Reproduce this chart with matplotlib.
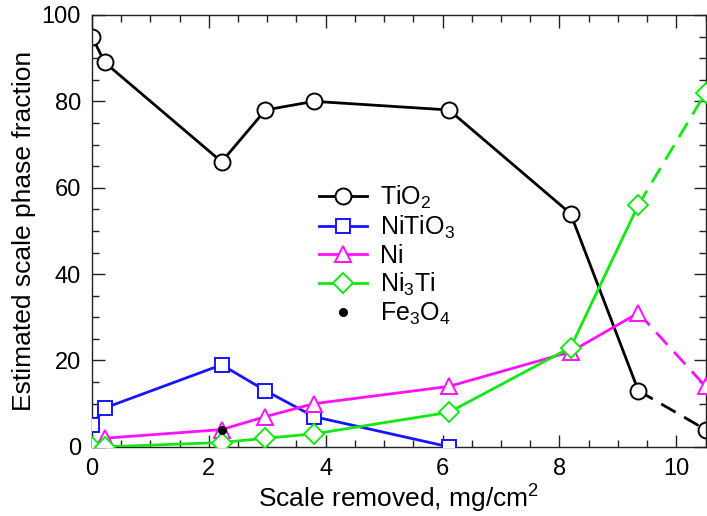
import matplotlib
matplotlib.use("Agg")
import matplotlib.pyplot as plt
from matplotlib.ticker import MultipleLocator
from matplotlib.lines import Line2D

plt.rcParams['font.family'] = ['Liberation Sans', 'DejaVu Sans']
plt.rcParams['mathtext.fontset'] = 'custom'
plt.rcParams['mathtext.rm'] = 'Liberation Sans'
plt.rcParams['mathtext.it'] = 'Liberation Sans'
plt.rcParams['mathtext.default'] = 'regular'

# Scale removed (mg/cm^2) and estimated phase fractions (%)
tio2_x = [0.0, 0.22, 2.22, 2.97, 3.8, 6.11, 8.19, 9.35, 10.5]
tio2_y = [95, 89, 66, 78, 80, 78, 54, 13, 4]

nitio3_x = [0.0, 0.22, 2.22, 2.97, 3.8, 6.11]
nitio3_y = [5, 9, 19, 13, 7, 0]

ni_x = [0.0, 0.22, 2.22, 2.97, 3.8, 6.11, 8.19, 9.35, 10.5]
ni_y = [0, 2, 4, 7, 10, 14, 22, 31, 14]

ni3ti_x = [0.0, 0.22, 2.22, 2.97, 3.8, 6.11, 8.19, 9.35, 10.5]
ni3ti_y = [0, 0, 1, 2, 3, 8, 23, 56, 82]

fe3o4_x = [2.22]
fe3o4_y = [4]

labels = ['TiO$_2$', 'NiTiO$_3$', 'Ni', 'Ni$_3$Ti', 'Fe$_3$O$_4$']

fig = plt.figure(figsize=(7.07, 5.16), dpi=100)
ax = fig.add_axes([0.130, 0.134, 0.868, 0.837])

lw = 2.0
mew = 1.4
dash = (6, 3.5)


def series(x, y, color, marker, ms, dashed_last, z):
    # solid segments, with the final segment dashed where flagged
    n = len(x) - 1 if dashed_last else len(x)
    ax.plot(x[:n], y[:n], '-', color=color, lw=lw, zorder=z)
    if dashed_last:
        ax.plot(x[-2:], y[-2:], color=color, lw=lw, dashes=dash, zorder=z)
    ax.plot(x, y, linestyle='none', marker=marker, ms=ms, mfc='white',
            mec=color, mew=mew, zorder=z + 0.5)


series(tio2_x, tio2_y, 'black', 'o', 11.5, True, 2)
series(nitio3_x, nitio3_y, '#1515ff', 's', 10, False, 3)
series(ni_x, ni_y, '#ff10ff', '^', 11, True, 4)
series(ni3ti_x, ni3ti_y, '#12e812', 'D', 10, True, 5)
ax.plot(fe3o4_x, fe3o4_y, linestyle='none', marker='o', ms=5.5,
        color='black', zorder=7)

ax.set_xlim(0, 10.5)
ax.set_ylim(0, 100)
ax.xaxis.set_major_locator(MultipleLocator(2))
ax.xaxis.set_minor_locator(MultipleLocator(0.5))
ax.yaxis.set_major_locator(MultipleLocator(20))
ax.yaxis.set_minor_locator(MultipleLocator(5))
ax.tick_params(which='both', direction='in', top=True, right=True,
               width=1.0, labelsize=17, color='#222222')
ax.tick_params(which='major', length=9, pad=8)
ax.tick_params(which='minor', length=5)
for sp in ax.spines.values():
    sp.set_linewidth(1.0)
    sp.set_color('#222222')

ax.set_xlabel('Scale removed, mg/cm$^2$', fontsize=19, labelpad=2)
ax.set_ylabel('Estimated scale phase fraction', fontsize=19, labelpad=4)

handles = [
    Line2D([], [], color='black', lw=lw, marker='o', ms=11.5, mfc='white', mec='black', mew=mew),
    Line2D([], [], color='#1515ff', lw=lw, marker='s', ms=10, mfc='white', mec='#1515ff', mew=mew),
    Line2D([], [], color='#ff10ff', lw=lw, marker='^', ms=11, mfc='white', mec='#ff10ff', mew=mew),
    Line2D([], [], color='#12e812', lw=lw, marker='D', ms=10, mfc='white', mec='#12e812', mew=mew),
    Line2D([], [], linestyle='none', marker='o', ms=5.5, color='black'),
]
ax.legend(handles, labels, loc='center left', bbox_to_anchor=(0.337, 0.443),
          frameon=False, fontsize=18, handlelength=1.95, handletextpad=0.5,
          labelspacing=0.12, borderpad=0.3)

fig.savefig('out.png', dpi=100)
